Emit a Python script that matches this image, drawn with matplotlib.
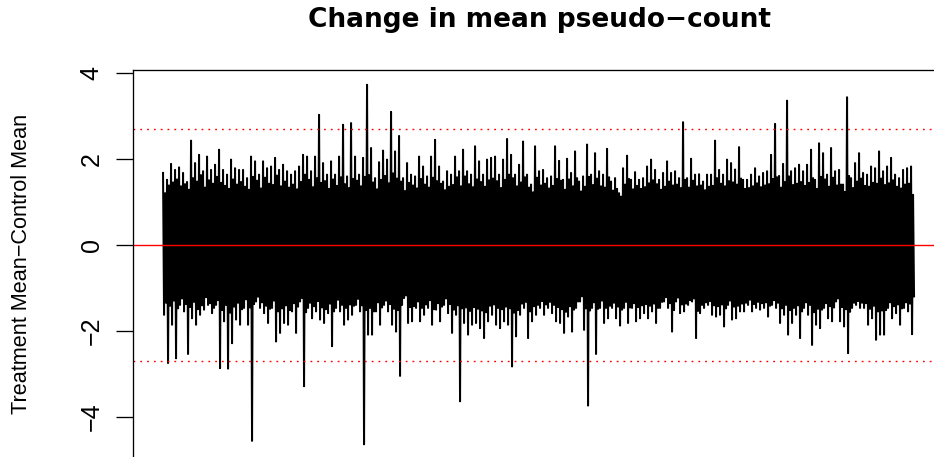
import numpy as np
import matplotlib.pyplot as plt

# treatment minus control mean per feature, in plotting order
mean_diff = [
    1.67, -1.63, 1.20, -1.35, 1.51, -2.75, 1.38, -1.42, 1.88, -1.86, 1.45, -1.30, 1.74, -2.64, 1.52, -1.48,
    1.80, -1.40, 1.36, -1.25, 1.67, -1.55, 1.41, -1.38, 1.46, -2.54, 1.28, -1.45, 2.42, -1.71, 1.55, -1.33,
    1.90, -1.86, 1.47, -1.50, 2.09, -1.63, 1.62, -1.41, 1.71, -1.51, 1.33, -1.22, 2.05, -1.40, 1.50, -1.36,
    1.74, -1.59, 1.42, -1.47, 1.86, -1.40, 1.58, -1.29, 2.21, -2.87, 1.44, -1.52, 1.74, -1.78, 1.37, -1.40,
    1.63, -2.88, 1.30, -1.58, 1.98, -2.29, 1.52, -1.44, 1.78, -1.74, 1.40, -1.35, 1.74, -1.86, 1.46, -1.50,
    1.74, -1.47, 1.35, -1.27, 1.55, -1.86, 1.28, -1.46, 2.05, -4.56, 1.58, -1.38, 1.94, -1.32, 1.49, -1.21,
    1.63, -1.47, 1.31, -1.34, 1.94, -1.59, 1.56, -1.42, 1.78, -1.82, 1.42, -1.49, 1.82, -1.47, 1.39, -1.30,
    2.02, -2.25, 1.61, -1.55, 1.74, -2.05, 1.36, -1.48, 1.86, -1.82, 1.47, -1.41, 1.71, -1.86, 1.33, -1.52,
    1.63, -1.55, 1.40, -1.36, 1.71, -2.05, 1.29, -1.44, 1.82, -1.32, 1.46, -1.24, 2.09, -3.29, 1.63, -1.57,
    2.05, -1.47, 1.51, -1.35, 1.71, -1.71, 1.34, -1.43, 2.05, -1.55, 1.55, -1.31, 3.02, -1.74, 1.44, -1.46,
    1.90, -1.82, 1.48, -1.50, 1.63, -1.59, 1.30, -1.37, 1.94, -2.36, 1.52, -1.55, 1.63, -1.47, 1.37, -1.28,
    2.05, -1.55, 1.57, -1.40, 2.79, -1.86, 1.41, -1.47, 1.59, -1.74, 1.32, -1.39, 2.83, -1.63, 1.53, -1.42,
    2.05, -1.40, 1.49, -1.26, 1.63, -1.55, 1.36, -1.41, 2.02, -4.64, 1.58, -1.52, 3.72, -2.09, 1.62, -1.47,
    2.25, -2.09, 1.45, -1.55, 1.55, -1.55, 1.29, -1.34, 1.92, -1.86, 1.51, -1.46, 2.19, -1.40, 1.60, -1.30,
    1.98, -1.55, 1.43, -1.38, 3.09, -1.86, 1.66, -1.49, 2.17, -2.02, 1.54, -1.52, 2.53, -3.05, 1.47, -1.40,
    1.55, -1.24, 1.25, -1.18, 1.90, -1.82, 1.44, -1.45, 1.63, -1.78, 1.38, -1.43, 1.59, -1.47, 1.31, -1.32,
    2.05, -1.78, 1.53, -1.47, 1.82, -1.63, 1.40, -1.39, 1.59, -1.47, 1.33, -1.29, 2.05, -1.86, 1.56, -1.50,
    2.44, -1.51, 1.48, -1.36, 1.82, -1.78, 1.42, -1.44, 1.47, -1.40, 1.27, -1.25, 1.71, -1.59, 1.35, -1.38,
    1.63, -2.05, 1.39, -1.51, 2.05, -1.63, 1.57, -1.41, 1.71, -3.64, 1.36, -1.48, 2.21, -1.82, 1.59, -1.46,
    1.71, -2.09, 1.41, -1.54, 1.63, -1.86, 1.34, -1.45, 2.29, -1.82, 1.52, -1.49, 1.94, -1.94, 1.46, -1.53,
    1.63, -2.17, 1.35, -1.57, 1.98, -1.78, 1.50, -1.42, 2.02, -1.63, 1.54, -1.39, 2.05, -1.86, 1.48, -1.47,
    1.63, -1.94, 1.32, -1.50, 1.98, -1.78, 1.51, -1.44, 2.46, -1.86, 1.63, -1.48, 2.09, -2.83, 1.55, -1.58,
    1.63, -2.13, 1.36, -1.52, 1.86, -1.63, 1.45, -1.37, 2.40, -1.47, 1.57, -1.33, 1.63, -2.17, 1.33, -1.55,
    1.40, -1.78, 1.22, -1.43, 2.29, -1.63, 1.56, -1.40, 1.71, -1.47, 1.38, -1.31, 1.74, -1.63, 1.42, -1.39,
    1.55, -1.47, 1.31, -1.33, 1.59, -1.59, 1.37, -1.40, 2.29, -1.78, 1.53, -1.45, 1.95, -1.82, 1.49, -1.50,
    1.51, -2.05, 1.28, -1.56, 2.00, -1.67, 1.52, -1.43, 1.67, -2.02, 1.36, -1.51, 2.17, -1.47, 1.55, -1.32,
    1.47, -1.32, 1.24, -1.20, 1.59, -1.98, 1.35, -1.48, 2.33, -3.74, 1.58, -1.53, 1.63, -1.47, 1.39, -1.34,
    2.13, -2.54, 1.54, -1.49, 1.71, -1.47, 1.36, -1.30, 1.63, -1.82, 1.33, -1.47, 2.23, -1.71, 1.57, -1.42,
    1.47, -1.47, 1.26, -1.35, 1.55, -1.71, 1.30, -1.44, 1.20, -1.88, 1.12, -1.51, 1.78, -1.47, 1.40, -1.33,
    2.07, -1.82, 1.53, -1.46, 1.51, -1.47, 1.29, -1.36, 1.69, -1.78, 1.37, -1.45, 1.51, -1.71, 1.30, -1.41,
    1.55, -1.59, 1.34, -1.38, 1.82, -1.71, 1.43, -1.42, 1.98, -1.55, 1.50, -1.37, 1.74, -1.82, 1.41, -1.47,
    1.51, -1.47, 1.28, -1.33, 1.67, -1.32, 1.35, -1.22, 1.94, -1.47, 1.47, -1.36, 1.67, -2.02, 1.38, -1.52,
    1.71, -1.32, 1.40, -1.23, 1.55, -1.59, 1.32, -1.39, 2.85, -1.55, 1.51, -1.37, 1.55, -1.40, 1.33, -1.29,
    2.00, -1.32, 1.49, -1.25, 1.63, -2.17, 1.36, -1.54, 1.64, -1.59, 1.38, -1.40, 1.47, -1.47, 1.27, -1.34,
    1.63, -1.40, 1.35, -1.31, 1.63, -1.63, 1.37, -1.41, 2.42, -1.67, 1.55, -1.43, 1.74, -1.63, 1.42, -1.39,
    1.63, -1.90, 1.36, -1.48, 1.98, -1.40, 1.48, -1.30, 1.90, -1.74, 1.45, -1.44,
    1.75, -1.71, 1.40, -1.42, 2.27, -1.55, 1.54, -1.37, 1.51, -1.55, 1.30, -1.35, 1.51, -1.40, 1.32, -1.28,
    1.63, -1.55, 1.36, -1.38, 1.78, -1.47, 1.43, -1.33, 1.59, -1.51, 1.34, -1.36, 1.67, -1.47, 1.38, -1.34,
    1.71, -1.67, 1.41, -1.42, 2.09, -1.40, 1.53, -1.29, 2.81, -1.47, 1.57, -1.35, 1.60, -1.82, 1.33, -1.48,
    1.88, -1.63, 1.46, -1.40, 3.35, -2.09, 1.59, -1.52, 1.71, -1.82, 1.39, -1.47, 1.78, -1.63, 1.42, -1.41,
    1.86, -2.17, 1.46, -1.55, 1.71, -1.47, 1.37, -1.34, 1.86, -1.63, 1.44, -1.40, 2.21, -2.33, 1.55, -1.57,
    1.51, -1.86, 1.30, -1.49, 2.36, -1.94, 1.58, -1.51, 2.13, -1.47, 1.52, -1.36, 1.63, -1.71, 1.35, -1.43,
    2.25, -1.78, 1.56, -1.46, 1.71, -1.32, 1.38, -1.25, 1.74, -1.78, 1.40, -1.45, 1.40, -1.90, 1.23, -1.50,
    3.43, -2.52, 1.60, -1.56, 1.55, -1.47, 1.32, -1.35, 1.90, -1.40, 1.47, -1.31, 2.13, -1.47, 1.54, -1.35,
    1.67, -1.47, 1.37, -1.36, 1.63, -1.86, 1.35, -1.49, 1.82, -1.71, 1.44, -1.42, 1.78, -2.21, 1.42, -1.55,
    2.17, -2.09, 1.54, -1.53, 1.71, -2.09, 1.39, -1.52, 1.82, -1.47, 1.43, -1.34, 2.02, -1.71, 1.50, -1.43,
    1.63, -1.59, 1.35, -1.39, 1.55, -1.86, 1.31, -1.48, 1.74, -1.47, 1.40, -1.34, 1.78, -1.55, 1.42, -1.37,
    1.82, -2.08, 1.16, -1.20,
]
cutoff = 2.7
yticks = [-4, -2, 0, 2, 4]

title = "Change in mean pseudo\u2212count"
ylab = "Treatment Mean\u2212Control Mean"

# keep every zigzag vertex, the default simplification merges them
plt.rcParams["path.simplify"] = False

n = len(mean_diff)
idx = np.arange(1, n + 1)

# same 4% padding as base R
xpad = 0.04 * (n - 1)
ypad = 0.04 * (max(mean_diff) - min(mean_diff))

fig = plt.figure(figsize=(9.34, 4.57), dpi=100)
ax = fig.add_axes([0.1424, -0.0037, 0.8684, 0.8497])

ax.plot(idx, mean_diff, color="black", lw=1.45)
ax.axhline(0, color="red", lw=1.0)
ax.axhline(cutoff, color="red", lw=1.0, ls=(0, (1.3, 3.6)))
ax.axhline(-cutoff, color="red", lw=1.0, ls=(0, (1.3, 3.6)))

ax.set_xlim(1 - xpad, n + xpad)
ax.set_ylim(min(mean_diff) - ypad, max(mean_diff) + ypad)

ax.set_xticks([])
ax.set_yticks(yticks)
ax.set_yticklabels([str(t).replace("-", "\u2212") for t in yticks],
                   rotation=90, va="center", family="Liberation Sans", fontsize=18)
ax.tick_params(axis="y", length=12, width=0.95, pad=9)
for s in ax.spines.values():
    s.set_linewidth(0.95)

fig.text(0.5775, 0.9420, title, ha="center", va="baseline",
         family="DejaVu Sans", weight="bold", fontsize=19)
fig.text(22 / 934, 0.4222, ylab, rotation=90, ha="center", va="center",
         family="Liberation Sans", fontsize=15.6)

fig.savefig("out.png", dpi=100)
